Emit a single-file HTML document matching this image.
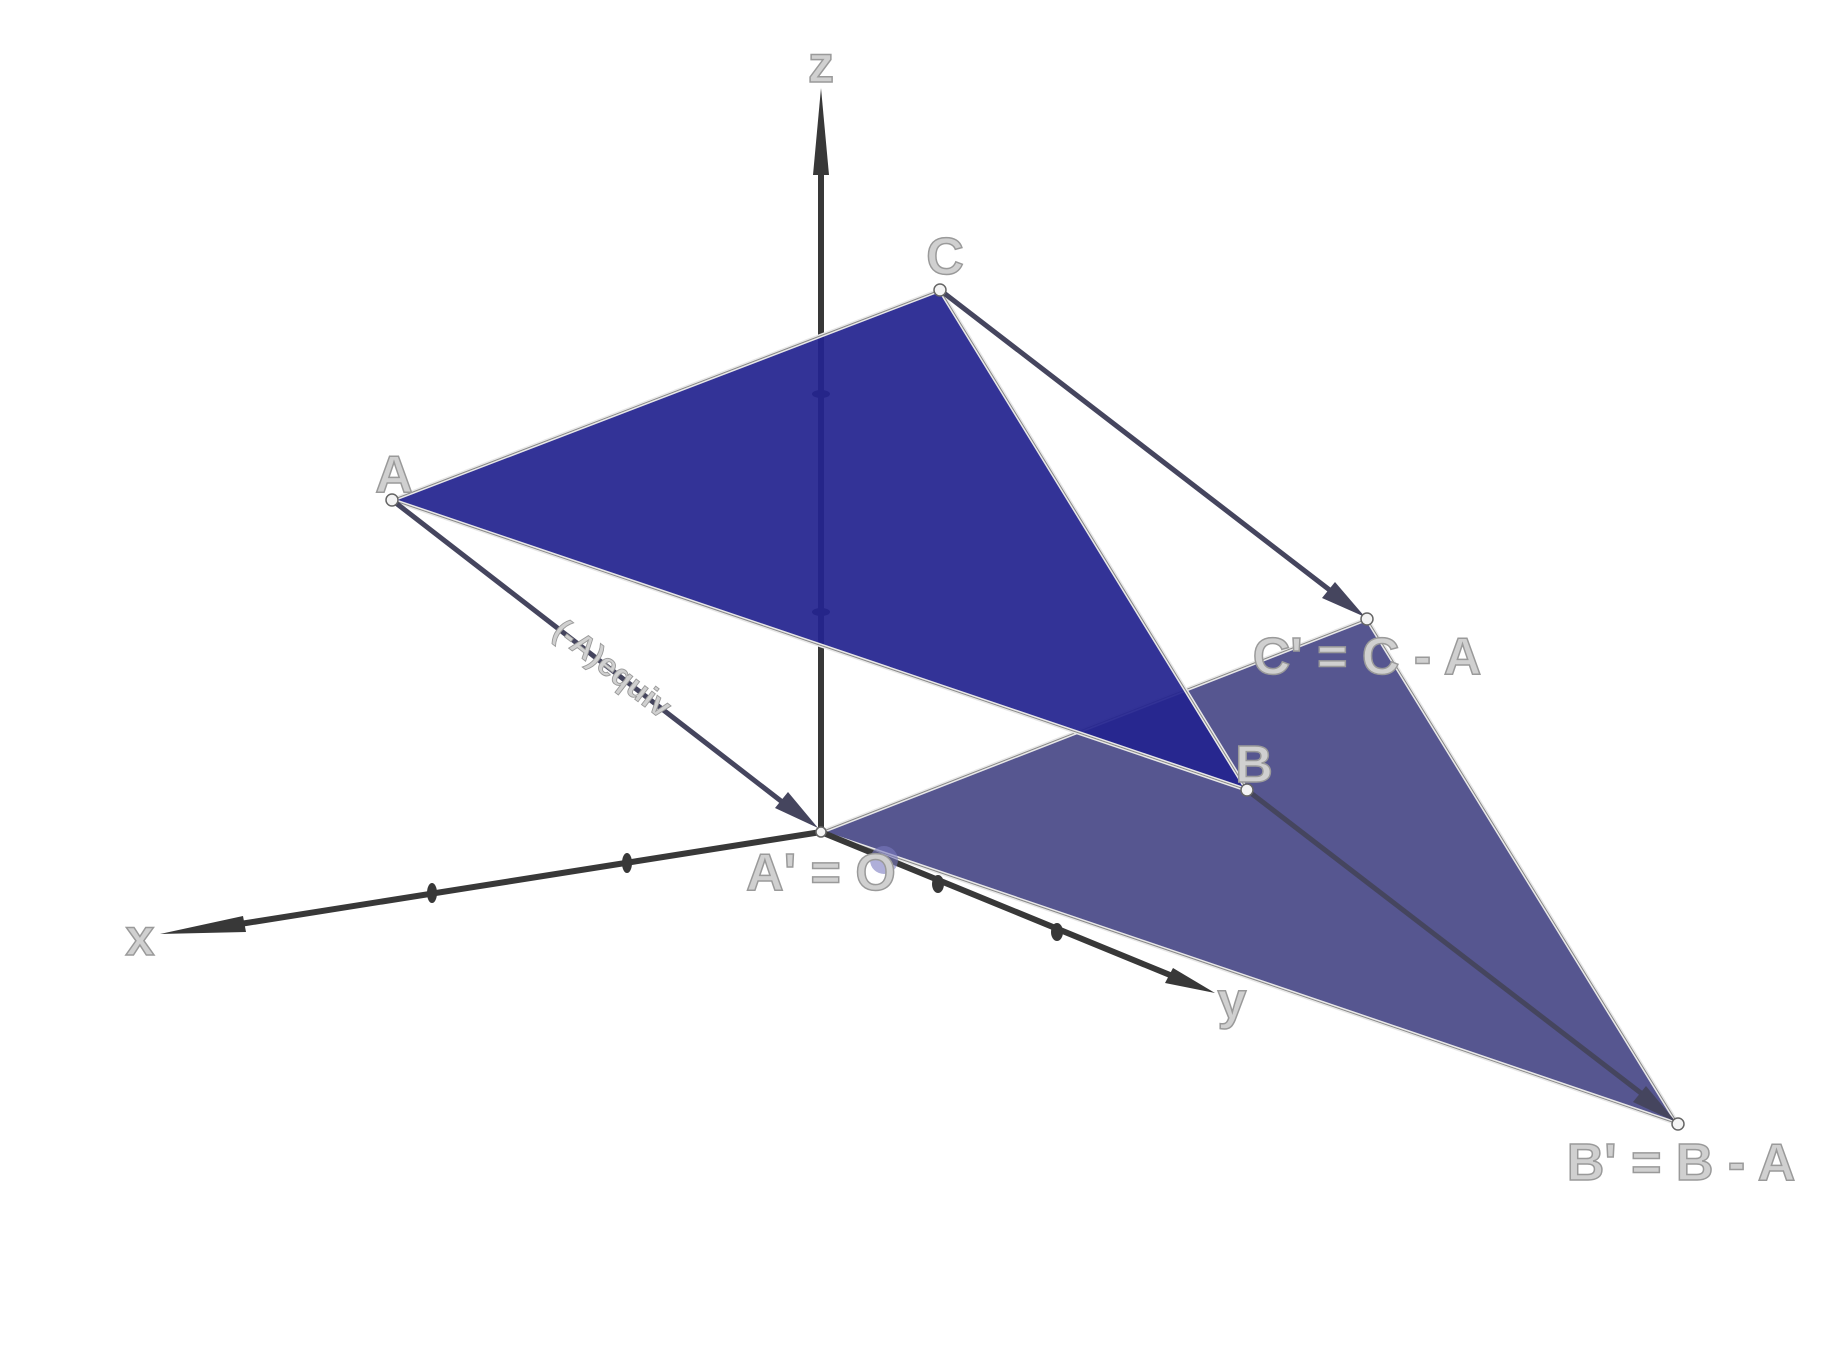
<!DOCTYPE html>
<html><head><meta charset="utf-8"><style>
html,body{margin:0;padding:0;background:#fff;}
svg text{font-family:"Liberation Sans",sans-serif;font-weight:bold;fill:#d0d0d0;stroke:#9a9a9a;stroke-width:1.5;}
</style></head><body>
<svg width="1830" height="1364" viewBox="0 0 1830 1364" xmlns="http://www.w3.org/2000/svg">
<!-- lower triangle -->
<polygon points="821,832 1678,1124 1367,619" fill="#565690"/>
<g stroke="#e8e8e8" stroke-width="4" fill="none">
<polygon points="821,832 1678,1124 1367,619"/>
</g>
<g stroke="#888" stroke-width="1" fill="none">
<polygon points="821,832 1678,1124 1367,619"/>
</g>
<!-- axes -->
<g stroke="#383838" stroke-width="6" stroke-linecap="round">
<line x1="821" y1="832" x2="821" y2="170"/>
<line x1="821" y1="832" x2="240" y2="924"/>
<line x1="821" y1="832" x2="1170" y2="975"/>
</g>
<polygon points="821,88 813,175 829,175" fill="#383838"/>
<polygon points="160,934 243,916 246,932" fill="#383838"/>
<polygon points="1215,993 1165,983 1173,968" fill="#383838"/>
<g fill="#383838">
<ellipse cx="821" cy="394" rx="9" ry="4"/><ellipse cx="821" cy="612" rx="9" ry="4"/>
<ellipse cx="432" cy="893" rx="5" ry="10"/><ellipse cx="627" cy="863" rx="5" ry="10"/>
<ellipse cx="938" cy="884" rx="6" ry="9"/><ellipse cx="1057" cy="932" rx="6" ry="9"/>
</g>
<!-- upper triangle -->
<polygon points="392,500 940,290 1247,790" fill="#23238f" fill-opacity="0.93"/>
<g stroke="#e8e8e8" stroke-width="4" fill="none"><polygon points="392,500 940,290 1247,790"/></g>
<g stroke="#888" stroke-width="1" fill="none"><polygon points="392,500 940,290 1247,790"/></g>
<!-- vectors -->
<g stroke="#45455e" stroke-width="5" fill="none">
<line x1="392" y1="500" x2="790" y2="808"/>
<line x1="940" y1="290" x2="1340" y2="598"/>
<line x1="1247" y1="790" x2="1650" y2="1100"/>
</g>
<polygon points="818,828 775,808 788,792" fill="#45455e"/>
<polygon points="1365,617 1322,598 1335,582" fill="#45455e"/>
<polygon points="1676,1122 1633,1102 1646,1086" fill="#45455e"/>
<!-- points -->
<g fill="#f4f4f4" stroke="#666" stroke-width="1.5">
<circle cx="392" cy="500" r="6"/><circle cx="940" cy="290" r="6"/><circle cx="1247" cy="790" r="6"/>
<circle cx="1367" cy="619" r="6"/><circle cx="1678" cy="1124" r="6"/><circle cx="821" cy="832" r="5"/>
</g>
<circle cx="884" cy="860" r="14" fill="#7a7ac0" opacity="0.6"/>
<!-- labels -->
<text x="821" y="82" font-size="52" text-anchor="middle">z</text>
<text x="140" y="955" font-size="52" text-anchor="middle">x</text>
<text x="1232" y="1018" font-size="52" text-anchor="middle">y</text>
<text x="945" y="274" font-size="52" text-anchor="middle">C</text>
<text x="394" y="492" font-size="52" text-anchor="middle">A</text>
<text x="1254" y="782" font-size="52" text-anchor="middle">B</text>
<text x="1367" y="674" font-size="52" text-anchor="middle">C' = C - A</text>
<text x="821" y="890" font-size="52" text-anchor="middle">A' = O</text>
<text x="1681" y="1180" font-size="52" text-anchor="middle">B' = B - A</text>
<text x="606" y="677" font-size="32" text-anchor="middle" transform="rotate(37.7 606 677)" style="stroke-width:0.9">(-A)equiv</text>
</svg>
</body></html>
